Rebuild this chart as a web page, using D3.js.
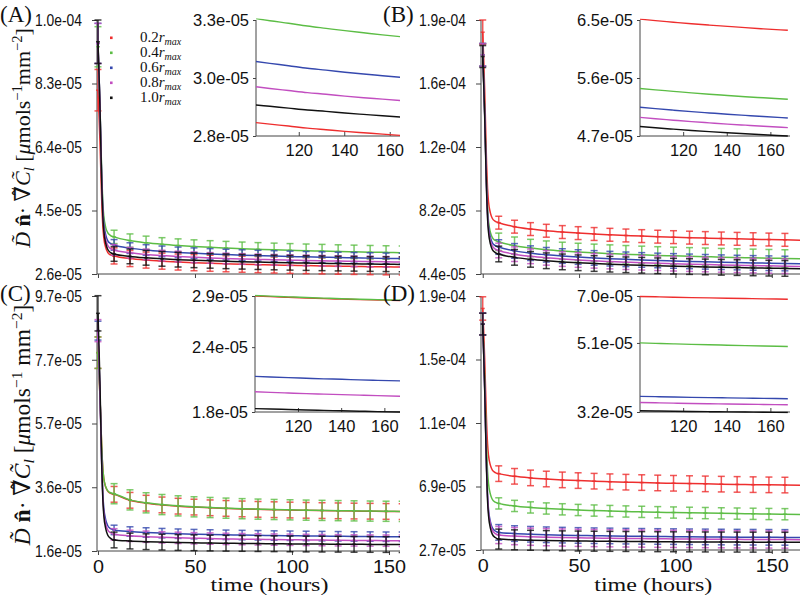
<!DOCTYPE html>
<html><head><meta charset="utf-8">
<script src="https://cdn.jsdelivr.net/npm/d3@7"></script>
<style>body{margin:0;background:#fff} svg{display:block}</style>
</head><body>
<svg id="c" width="800" height="595"></svg>
<script>
// ---------------- DATA (flux values in units of 1e-5 µmol s^-1 mm^-2) ----------------
const seriesLabels = ["0.2", "0.4", "0.6", "0.8", "1.0"];
const seriesColors = ["#ee2e2e", "#5cbd45", "#3548ae", "#c24ec0", "#111111"];
const times = [0, 0.5, 1, 1.5, 2, 2.5, 3, 4, 5, 6.5, 8.3, 16.5, 24.8, 33, 41.3, 49.5, 57.8, 66, 74.3, 82.5, 90.8, 99, 107.3, 115.5, 123.8, 132, 140.3, 148.5, 156.8, 168];
const barTimes = [0, 8.3, 16.5, 24.8, 33, 41.3, 49.5, 57.8, 66, 74.3, 82.5, 90.8, 99, 107.3, 115.5, 123.8, 132, 140.3, 148.5, 156.8];
const xTicks = [0, 50, 100, 150];
const insetXTicks = [120, 140, 160];

// Panel A
const A_red     = [8.10, 7.41, 6.61, 5.62, 4.68, 4.03, 3.69, 3.39, 3.25, 3.17, 3.140, 3.062, 3.016, 2.984, 2.958, 2.938, 2.921, 2.906, 2.892, 2.880, 2.869, 2.860, 2.851, 2.843, 2.834, 2.827, 2.820, 2.814, 2.808, 2.800];
const A_green   = [9.40, 8.60, 7.69, 6.56, 5.47, 4.73, 4.34, 3.99, 3.84, 3.75, 3.710, 3.599, 3.533, 3.487, 3.451, 3.422, 3.397, 3.376, 3.356, 3.339, 3.324, 3.310, 3.297, 3.286, 3.274, 3.264, 3.254, 3.245, 3.236, 3.225];
const A_blue    = [9.50, 8.66, 7.69, 6.49, 5.34, 4.56, 4.13, 3.77, 3.60, 3.51, 3.470, 3.374, 3.317, 3.277, 3.246, 3.221, 3.199, 3.181, 3.164, 3.149, 3.136, 3.124, 3.113, 3.103, 3.092, 3.084, 3.075, 3.067, 3.060, 3.050];
const A_magenta = [9.50, 8.63, 7.65, 6.41, 5.24, 4.43, 4.00, 3.63, 3.46, 3.36, 3.320, 3.236, 3.185, 3.150, 3.122, 3.100, 3.081, 3.065, 3.050, 3.037, 3.025, 3.015, 3.005, 2.996, 2.987, 2.980, 2.972, 2.965, 2.959, 2.950];
const A_black   = [9.55, 8.66, 7.65, 6.38, 5.17, 4.34, 3.90, 3.52, 3.34, 3.24, 3.200, 3.127, 3.084, 3.053, 3.029, 3.010, 2.994, 2.980, 2.967, 2.956, 2.945, 2.936, 2.928, 2.920, 2.912, 2.906, 2.899, 2.893, 2.887, 2.880];
const errA0 = [0.62, 0.60, 0.60, 0.60, 0.65];
const errA  = [0.24, 0.20, 0.16, 0.16, 0.22];
const yDomainA = [2.6, 10.2];
const yTickLabelsA = ["2.6e-05", "4.5e-05", "6.4e-05", "8.3e-05", "1.0e-04"];
const insetDomainA = [2.8, 3.3];
const insetLabelsA = ["2.8e-05", "3.0e-05", "3.3e-05"];

// Panel B
const B_red     = [18.30, 16.77, 15.02, 12.83, 10.74, 9.32, 8.55, 7.90, 7.59, 7.43, 7.350, 7.120, 6.982, 6.886, 6.811, 6.750, 6.699, 6.654, 6.614, 6.578, 6.546, 6.518, 6.490, 6.466, 6.442, 6.421, 6.401, 6.381, 6.363, 6.340];
const B_green   = [17.00, 15.50, 13.78, 11.63, 9.58, 8.19, 7.43, 6.79, 6.49, 6.33, 6.250, 6.027, 5.893, 5.800, 5.727, 5.668, 5.618, 5.575, 5.536, 5.501, 5.470, 5.442, 5.416, 5.393, 5.369, 5.348, 5.329, 5.310, 5.293, 5.270];
const B_blue    = [17.00, 15.45, 13.69, 11.48, 9.38, 7.94, 7.17, 6.50, 6.19, 6.03, 5.950, 5.729, 5.597, 5.505, 5.432, 5.374, 5.324, 5.282, 5.243, 5.209, 5.178, 5.151, 5.125, 5.101, 5.078, 5.058, 5.038, 5.020, 5.002, 4.980];
const B_magenta = [17.00, 15.43, 13.63, 11.38, 9.24, 7.78, 6.99, 6.31, 6.00, 5.83, 5.750, 5.540, 5.415, 5.328, 5.259, 5.204, 5.157, 5.116, 5.079, 5.047, 5.018, 4.992, 4.967, 4.945, 4.923, 4.904, 4.885, 4.868, 4.851, 4.830];
const B_black   = [16.90, 15.31, 13.50, 11.23, 9.07, 7.59, 6.80, 6.12, 5.80, 5.63, 5.550, 5.356, 5.241, 5.160, 5.096, 5.045, 5.002, 4.964, 4.930, 4.901, 4.873, 4.850, 4.827, 4.806, 4.786, 4.768, 4.751, 4.735, 4.720, 4.700];
const errB0 = [0.70, 0.65, 0.65, 0.65, 0.63];
const errB  = [0.37, 0.50, 0.42, 0.42, 0.45];
const yDomainB = [4.4, 19.0];
const yTickLabelsB = ["4.4e-05", "8.2e-05", "1.2e-04", "1.6e-04", "1.9e-04"];
const insetDomainB = [4.7, 6.5];
const insetLabelsB = ["4.7e-05", "5.6e-05", "6.5e-05"];

// Panel C
const C_red     = [7.90, 7.27, 6.55, 5.65, 4.80, 4.21, 3.90, 3.63, 3.50, 3.43, 3.400, 3.210, 3.119, 3.064, 3.024, 2.995, 2.972, 2.953, 2.937, 2.923, 2.912, 2.901, 2.892, 2.884, 2.876, 2.869, 2.863, 2.857, 2.852, 2.845];
const C_green   = [7.90, 7.27, 6.56, 5.66, 4.81, 4.23, 3.91, 3.64, 3.52, 3.45, 3.420, 3.224, 3.131, 3.075, 3.034, 3.004, 2.981, 2.961, 2.944, 2.930, 2.918, 2.908, 2.898, 2.890, 2.882, 2.875, 2.868, 2.862, 2.857, 2.850];
const C_blue    = [8.60, 7.71, 6.70, 5.44, 4.23, 3.41, 2.97, 2.59, 2.41, 2.31, 2.270, 2.219, 2.188, 2.167, 2.150, 2.136, 2.125, 2.115, 2.106, 2.098, 2.091, 2.085, 2.079, 2.073, 2.068, 2.063, 2.059, 2.054, 2.050, 2.045];
const C_magenta = [8.60, 7.69, 6.66, 5.37, 4.14, 3.29, 2.84, 2.45, 2.27, 2.18, 2.130, 2.082, 2.054, 2.034, 2.018, 2.005, 1.995, 1.985, 1.977, 1.970, 1.963, 1.957, 1.951, 1.946, 1.941, 1.937, 1.933, 1.929, 1.925, 1.920];
const C_black   = [9.15, 8.14, 6.99, 5.55, 4.18, 3.25, 2.74, 2.31, 2.11, 2.00, 1.950, 1.916, 1.895, 1.881, 1.870, 1.861, 1.853, 1.847, 1.841, 1.835, 1.831, 1.826, 1.822, 1.819, 1.815, 1.812, 1.809, 1.806, 1.803, 1.800];
const errC0 = [0.50, 0.50, 0.30, 0.35, 0.56];
const errC  = [0.25, 0.32, 0.15, 0.18, 0.25];
const yDomainC = [1.6, 9.7];
const yTickLabelsC = ["1.6e-05", "3.6e-05", "5.7e-05", "7.7e-05", "9.7e-05"];
const insetDomainC = [1.8, 2.9];
const insetLabelsC = ["1.8e-05", "2.4e-05", "2.9e-05"];

// Panel D
const D_red     = [18.20, 16.72, 15.02, 12.90, 10.89, 9.51, 8.77, 8.13, 7.83, 7.67, 7.600, 7.429, 7.327, 7.256, 7.200, 7.155, 7.116, 7.083, 7.053, 7.027, 7.003, 6.982, 6.962, 6.944, 6.926, 6.910, 6.895, 6.881, 6.867, 6.850];
const D_green   = [17.20, 15.59, 13.75, 11.45, 9.26, 7.76, 6.96, 6.27, 5.94, 5.77, 5.690, 5.528, 5.432, 5.364, 5.311, 5.268, 5.232, 5.201, 5.172, 5.148, 5.125, 5.105, 5.086, 5.069, 5.052, 5.037, 5.023, 5.009, 4.996, 4.980];
const D_blue    = [17.20, 15.33, 13.19, 10.52, 7.97, 6.24, 5.30, 4.50, 4.12, 3.92, 3.830, 3.755, 3.710, 3.679, 3.654, 3.634, 3.617, 3.603, 3.589, 3.578, 3.567, 3.558, 3.549, 3.541, 3.533, 3.526, 3.520, 3.514, 3.508, 3.500];
const D_magenta = [17.20, 15.30, 13.14, 10.43, 7.86, 6.10, 5.15, 4.34, 3.96, 3.75, 3.660, 3.592, 3.551, 3.522, 3.500, 3.482, 3.467, 3.453, 3.441, 3.431, 3.421, 3.413, 3.405, 3.398, 3.390, 3.384, 3.378, 3.372, 3.367, 3.360];
const D_black   = [17.20, 15.27, 13.06, 10.30, 7.68, 5.88, 4.92, 4.09, 3.70, 3.50, 3.400, 3.352, 3.324, 3.304, 3.288, 3.275, 3.265, 3.255, 3.247, 3.240, 3.233, 3.227, 3.221, 3.216, 3.211, 3.207, 3.203, 3.199, 3.195, 3.190];
const errD0 = [0.75, 0.70, 0.70, 0.70, 0.70];
const errD  = [0.50, 0.36, 0.50, 0.55, 0.64];
const yDomainD = [2.7, 19.0];
const yTickLabelsD = ["2.7e-05", "6.9e-05", "1.1e-04", "1.5e-04", "1.9e-04"];
const insetDomainD = [3.2, 7.0];
const insetLabelsD = ["3.2e-05", "5.1e-05", "7.0e-05"];

// ---------------- LAYOUT ----------------
const panels = [
  {id:"A", letter:"(A)", lx:0, ly:22, values:[A_red,A_green,A_blue,A_magenta,A_black], err0:errA0, err:errA,
   yDomain:yDomainA, yLabels:yTickLabelsA, xDomain:[-0.5,168], xRange:[97,423.9], yRange:[274,20], clipR:400, xLabels:false,
   inset:{domain:insetDomainA, labels:insetLabelsA, log:false, xDomain:[101.2,169], xRange:[256,410.2], top:20, bottom:136, clipR:400}},
  {id:"B", letter:"(B)", lx:383, ly:22, values:[B_red,B_green,B_blue,B_magenta,B_black], err0:errB0, err:errB,
   yDomain:yDomainB, yLabels:yTickLabelsB, xDomain:[-0.9,168], xRange:[481,806.5], yRange:[274,20], clipR:800, xLabels:false,
   inset:{domain:insetDomainB, labels:insetLabelsB, log:false, xDomain:[100.2,169], xRange:[640,790], top:20, bottom:136, clipR:790}},
  {id:"C", letter:"(C)", lx:0, ly:301, values:[C_red,C_green,C_blue,C_magenta,C_black], err0:errC0, err:errC,
   yDomain:yDomainC, yLabels:yTickLabelsC, xDomain:[-0.5,168], xRange:[97,423.9], yRange:[551,296], clipR:400, xLabels:true,
   inset:{domain:insetDomainC, labels:insetLabelsC, log:true, xDomain:[100.1,169], xRange:[255,403.8], top:296, bottom:412, clipR:400}},
  {id:"D", letter:"(D)", lx:383, ly:301, values:[D_red,D_green,D_blue,D_magenta,D_black], err0:errD0, err:errD,
   yDomain:yDomainD, yLabels:yTickLabelsD, xDomain:[-0.9,168], xRange:[481,806.5], yRange:[550,296], clipR:800, xLabels:true,
   inset:{domain:insetDomainD, labels:insetLabelsD, log:true, xDomain:[100.2,169], xRange:[640,790], top:296, bottom:412, clipR:790}}
];

const svg = d3.select("#c");
const defs = svg.append("defs");
const AXC = "#444";
const SANS = "Liberation Sans, Arial, sans-serif";
const SERIF = "Liberation Serif, DejaVu Serif, serif";

function styleAxis(g, size, widthFn) {
  g.attr("font-size", size).attr("font-family", SANS);
  g.select(".domain").remove();
  g.selectAll(".tick line").attr("stroke", AXC);
  const tx = g.selectAll(".tick text").attr("fill", "#111").attr("font-family", SANS).attr("font-size", size);
  if (widthFn) {
    tx.each(function() {
      const s = d3.select(this).text();
      if (s) d3.select(this).attr("textLength", widthFn(s)).attr("lengthAdjust", "spacingAndGlyphs");
    });
  }
}

panels.forEach(p => {
  const g = svg.append("g");
  const x = d3.scaleLinear().domain(p.xDomain).range(p.xRange);
  const y = d3.scaleLinear().domain(p.yDomain).range(p.yRange);
  const x0 = p.xRange[0], yB = p.yRange[0], yT = p.yRange[1];

  defs.append("clipPath").attr("id", "clip" + p.id).append("rect")
    .attr("x", x0 - 6).attr("y", yT - 3).attr("width", p.clipR - x0 + 6).attr("height", yB - yT + 8);

  // y axis
  const n = p.yLabels.length;
  const yVals = p.yLabels.map((_, i) => p.yDomain[0] + i * (p.yDomain[1] - p.yDomain[0]) / (n - 1));
  const ya = g.append("g").attr("transform", `translate(${x0},0)`)
    .call(d3.axisLeft(y).tickValues(yVals).tickFormat((d, i) => p.yLabels[i]).tickSize(5).tickSizeOuter(0).tickPadding(10));
  styleAxis(ya, 16.5, s => 47);
  // x axis
  const xa = g.append("g").attr("transform", `translate(0,${yB})`)
    .call(d3.axisBottom(x).tickValues(xTicks).tickFormat(d => p.xLabels ? d : "").tickSize(4).tickSizeOuter(0).tickPadding(6));
  styleAxis(xa, 17.5, s => 11 * s.length);
  g.append("line").attr("x1", x0).attr("x2", x0).attr("y1", yT).attr("y2", yB).attr("stroke", AXC);
  g.append("line").attr("x1", x0).attr("x2", p.clipR).attr("y1", yB).attr("y2", yB).attr("stroke", AXC);

  // series
  const plot = g.append("g").attr("clip-path", `url(#clip${p.id})`);
  const line = d3.line().x((d, i) => x(times[i])).y(d => y(d)).curve(d3.curveMonotoneX);
  p.values.forEach((vals, si) => {
    const col = seriesColors[si];
    plot.append("path").attr("d", line(vals)).attr("fill", "none").attr("stroke", col).attr("stroke-width", 1.5);
    const bars = plot.append("g").attr("stroke", col).attr("stroke-opacity", 0.8).attr("stroke-width", 1.5);
    barTimes.forEach(bt => {
      const idx = times.indexOf(bt);
      const v = vals[idx];
      const e = bt === 0 ? p.err0[si] : p.err[si];
      const bx = x(bt), y1 = y(v - e), y2 = y(v + e);
      bars.append("line").attr("x1", bx).attr("x2", bx).attr("y1", y1).attr("y2", y2);
      bars.append("line").attr("x1", bx - 3.5).attr("x2", bx + 3.5).attr("y1", y1).attr("y2", y1);
      bars.append("line").attr("x1", bx - 3.5).attr("x2", bx + 3.5).attr("y1", y2).attr("y2", y2);
      bars.append("line").attr("x1", bx - 2).attr("x2", bx + 2).attr("y1", y(v)).attr("y2", y(v));
    });
  });

  // inset
  const ins = p.inset;
  const ix = d3.scaleLinear().domain(ins.xDomain).range(ins.xRange);
  const iy = (ins.log ? d3.scaleLog() : d3.scaleLinear()).domain(ins.domain).range([ins.bottom, ins.top]);
  const ig = svg.append("g");
  defs.append("clipPath").attr("id", "iclip" + p.id).append("rect")
    .attr("x", ins.xRange[0]).attr("y", ins.top - 1.5).attr("width", ins.clipR - ins.xRange[0]).attr("height", ins.bottom - ins.top + 3);
  const iVals = [ins.domain[0], (ins.domain[0] + ins.domain[1]) / 2, ins.domain[1]];
  const iya = ig.append("g").attr("transform", `translate(${ins.xRange[0]},0)`)
    .call(d3.axisLeft(iy).tickValues(iVals).tickFormat((d, i) => ins.labels[i]).tickSize(3).tickSizeOuter(0).tickPadding(4));
  styleAxis(iya, 16.5);
  const ixa = ig.append("g").attr("transform", `translate(0,${ins.bottom})`)
    .call(d3.axisBottom(ix).tickValues(insetXTicks).tickSize(-4).tickSizeOuter(0).tickPadding(8));
  styleAxis(ixa, 16.5);
  ig.append("line").attr("x1", ins.xRange[0]).attr("x2", ins.xRange[0]).attr("y1", ins.top).attr("y2", ins.bottom).attr("stroke", AXC);
  ig.append("line").attr("x1", ins.xRange[0]).attr("x2", ins.clipR).attr("y1", ins.bottom).attr("y2", ins.bottom).attr("stroke", AXC);
  const ip = ig.append("g").attr("clip-path", `url(#iclip${p.id})`);
  const iline = d3.line().defined((d, i) => times[i] >= 95).x((d, i) => ix(times[i])).y(d => iy(d)).curve(d3.curveMonotoneX);
  p.values.forEach((vals, si) => {
    ip.append("path").attr("d", iline(vals)).attr("fill", "none").attr("stroke", seriesColors[si]).attr("stroke-width", 1.4);
  });

  // panel letter
  svg.append("text").attr("x", p.lx).attr("y", p.ly).attr("font-family", SERIF).attr("font-size", 23).attr("fill", "#111").text(p.letter);

  if (p.xLabels) {
    svg.append("text").attr("x", (x(0) + x(150)) / 2 + 26).attr("y", 591).attr("text-anchor", "middle")
      .attr("font-family", SERIF).attr("font-size", 19.5).attr("fill", "#111")
      .attr("textLength", 118).attr("lengthAdjust", "spacingAndGlyphs").text("time (hours)");
  }
});

// y-axis labels
function yLabel(cy, size, spaced) {
  const sm = size * 0.66;
  const t = svg.append("text").attr("transform", `translate(30,${cy}) rotate(-90)`).attr("text-anchor", "middle")
    .attr("font-family", SERIF).attr("font-size", size).attr("fill", "#111");
  t.append("tspan").attr("font-style", "italic").text("D\u0303");
  t.append("tspan").text(" ");
  t.append("tspan").attr("font-weight", "bold").text("n\u0302");
  t.append("tspan").text("\u00b7 \u2207\u0303");
  t.append("tspan").attr("font-style", "italic").text("C\u0303");
  t.append("tspan").attr("font-style", "italic").attr("font-size", sm).attr("dy", 4).text("l");
  t.append("tspan").attr("dy", -4).text(" [");
  t.append("tspan").attr("font-style", "italic").text("\u03bc");
  t.append("tspan").text("mols");
  t.append("tspan").attr("font-size", sm).attr("dy", -8).text("\u22121");
  t.append("tspan").attr("dy", 8).text(spaced ? " mm" : "mm");
  t.append("tspan").attr("font-size", sm).attr("dy", -8).text("\u22122");
  t.append("tspan").attr("dy", 8).text("]");
}
yLabel(138, 22, false);
yLabel(425, 23.5, true);

// legend (panel A)
const leg = svg.append("g");
seriesLabels.forEach((lab, i) => {
  const cy = 37.7 + i * 15;
  leg.append("rect").attr("x", 110).attr("y", cy - 1.2).attr("width", 2.6).attr("height", 2.6).attr("fill", seriesColors[i]);
  const t = leg.append("text").attr("x", 140).attr("y", cy + 4.5).attr("font-family", SERIF).attr("font-size", 15).attr("fill", "#111");
  t.append("tspan").text(lab);
  t.append("tspan").attr("font-style", "italic").text("r");
  t.append("tspan").attr("font-style", "italic").attr("font-size", 10).attr("dy", 2.5).text("max");
});
</script>
</body></html>
